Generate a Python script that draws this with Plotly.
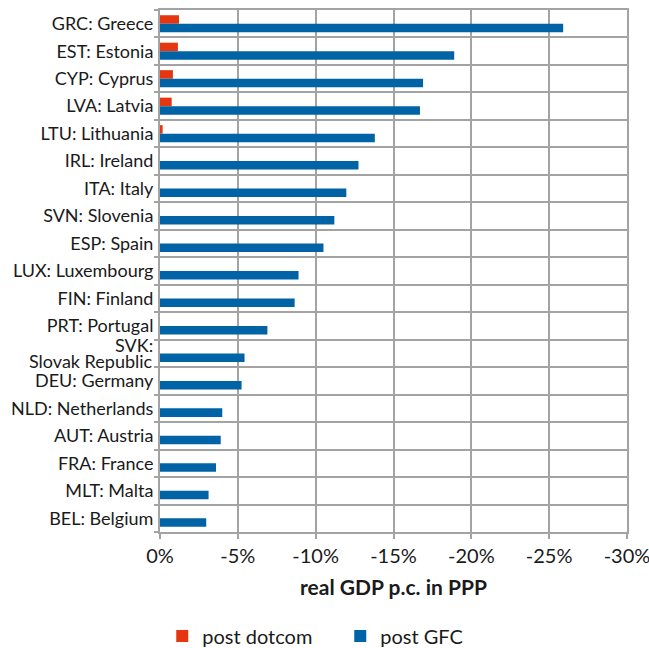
import plotly.graph_objects as go

countries = [
    "GRC: Greece", "EST: Estonia", "CYP: Cyprus", "LVA: Latvia", "LTU: Lithuania",
    "IRL: Ireland", "ITA: Italy", "SVN: Slovenia", "ESP: Spain", "LUX: Luxembourg",
    "FIN: Finland", "PRT: Portugal", "SVK: Slovak Republic", "DEU: Germany",
    "NLD: Netherlands", "AUT: Austria", "FRA: France", "MLT: Malta", "BEL: Belgium",
]
post_dotcom = [-1.22, -1.15, -0.83, -0.75, -0.17, 0, 0, 0, 0, 0,
               0, 0, 0, 0, 0, 0, 0, 0, 0]
post_gfc = [-25.9, -18.9, -16.9, -16.7, -13.8, -12.75, -11.97, -11.2, -10.5, -8.9,
            -8.65, -6.9, -5.43, -5.24, -4.0, -3.9, -3.6, -3.12, -2.97]
tick_values = [0, -5, -10, -15, -20, -25, -30]
tick_labels = ["0%", "-5%", "-10%", "-15%", "-20%", "-25%", "-30%"]
wrapped = {"SVK: Slovak Republic"}  # labels shown on two lines

RED = "#e5360f"
BLUE = "#0063a6"
GRID = "#a3a3a3"
FONT = "Lato"
LABEL_SIZE = 18

fig = go.Figure()
fig.add_trace(go.Bar(
    y=countries, x=post_dotcom, orientation="h", name="post dotcom",
    marker=dict(color=RED, line=dict(width=0)),
))
fig.add_trace(go.Bar(
    y=countries, x=post_gfc, orientation="h", name="post GFC",
    marker=dict(color=BLUE, line=dict(width=0)),
))

# two-line label with tight line spacing
for c in countries:
    if c in wrapped:
        first, second = c.split(" ", 1)
        for txt, shift in ((first, 8), (second, -8)):
            fig.add_annotation(
                x=0, xref="paper", y=c, yref="y", text=txt, showarrow=False,
                xanchor="right", yanchor="middle", xshift=-5, yshift=shift,
                font=dict(size=LABEL_SIZE, family=FONT, color="#1a1a1a"),
            )

fig.update_layout(
    width=649, height=648,
    margin=dict(l=160, r=22, t=10, b=116, autoexpand=False),
    paper_bgcolor="white", plot_bgcolor="white",
    barmode="group", bargap=0.38, bargroupgap=0,
    font=dict(family=FONT, size=17, color="#1a1a1a"),
    showlegend=True,
    legend=dict(
        orientation="h", x=0.25, xref="container", xanchor="left",
        y=0.0185, yref="container", yanchor="middle",
        font=dict(size=20, family=FONT), itemwidth=30, traceorder="normal",
        entrywidth=133, entrywidthmode="pixels",
    ),
    xaxis=dict(
        range=[0, -30], tickvals=tick_values, ticktext=tick_labels,
        automargin=False, ticklabeloverflow="allow",
        showgrid=True, gridcolor=GRID, gridwidth=2,
        zeroline=False, showline=True, linecolor=GRID, linewidth=2,
        ticks="outside", ticklen=5, tickcolor=GRID, tickwidth=2,
        mirror=True,
        tickfont=dict(size=20, family=FONT),
        title=dict(text="<b>real GDP p.c. in PPP</b>", font=dict(size=21, family=FONT), standoff=14),
    ),
    yaxis=dict(
        type="category", autorange="reversed", tickson="boundaries",
        categoryorder="array", categoryarray=countries,
        tickvals=countries,
        ticktext=["" if c in wrapped else c for c in countries],
        automargin=False,
        showgrid=True, gridcolor=GRID, gridwidth=2,
        showline=True, linecolor=GRID, linewidth=2, mirror=True,
        ticks="outside", ticklen=4, tickcolor=GRID, tickwidth=2,
        tickfont=dict(size=LABEL_SIZE, family=FONT),
        ticklabelstandoff=1,
    ),
)

fig.write_html("out.html", config={"displayModeBar": False},
               post_script="document.body.style.margin='0px';")
